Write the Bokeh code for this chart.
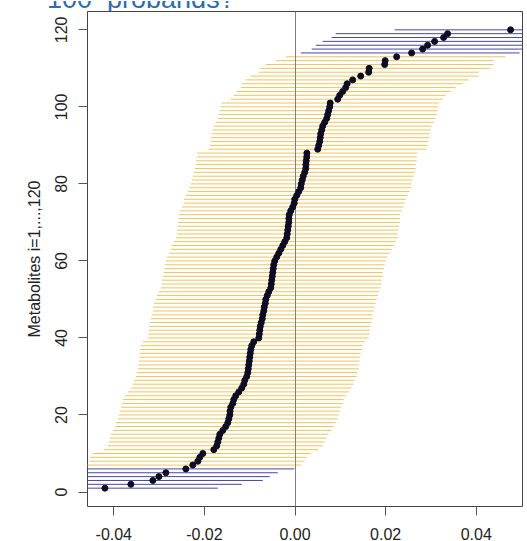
from bokeh.plotting import figure
from bokeh.layouts import column
from bokeh.models import FixedTicker, Range1d, ColumnDataSource, Div
from bokeh.embed import file_html
from bokeh.resources import INLINE

# ---- data ----
estimate = [
    -0.04196, -0.03623, -0.03138, -0.03005, -0.02851, -0.02410, -0.02256, -0.02145, -0.02101, -0.02035,
    -0.01793, -0.01727, -0.01704, -0.01682, -0.01660, -0.01594, -0.01529, -0.01484, -0.01462, -0.01440,
    -0.01435, -0.01418, -0.01374, -0.01352, -0.01308, -0.01241, -0.01175, -0.01131, -0.01109, -0.01065,
    -0.01043, -0.01032, -0.01021, -0.01010, -0.00999, -0.00988, -0.00977, -0.00955, -0.00911, -0.00800,
    -0.00789, -0.00778, -0.00767, -0.00745, -0.00723, -0.00712, -0.00690, -0.00679, -0.00657, -0.00646,
    -0.00613, -0.00580, -0.00536, -0.00525, -0.00514, -0.00503, -0.00492, -0.00481, -0.00470, -0.00448,
    -0.00404, -0.00359, -0.00315, -0.00271, -0.00227, -0.00183, -0.00172, -0.00161, -0.00150, -0.00139,
    -0.00136, -0.00128, -0.00095, -0.00051, -0.00018, -0.00007, 0.00037, 0.00082, 0.00126, 0.00137,
    0.00159, 0.00181, 0.00214, 0.00236, 0.00239, 0.00247, 0.00258, 0.00261, 0.00501, 0.00523,
    0.00545, 0.00556, 0.00567, 0.00589, 0.00611, 0.00655, 0.00699, 0.00721, 0.00743, 0.00765,
    0.00776, 0.00942, 0.00986, 0.01052, 0.01118, 0.01151, 0.01272, 0.01449, 0.01625, 0.01636,
    0.01978, 0.01989, 0.02243, 0.02573, 0.02816, 0.02926, 0.03080, 0.03279, 0.03367, 0.04756,
]

lower = [
    -0.0662, -0.0605, -0.0556, -0.0543, -0.0528, -0.0481, -0.04615, -0.04549, -0.04527, -0.04461,
    -0.04218, -0.04130, -0.04108, -0.04086, -0.04064, -0.04020, -0.03976, -0.03954, -0.03909, -0.03887,
    -0.03865, -0.03843, -0.03821, -0.03799, -0.03755, -0.03689, -0.03623, -0.03579, -0.03557, -0.03513,
    -0.03491, -0.03468, -0.03465, -0.03446, -0.03443, -0.03424, -0.03421, -0.03402, -0.03358, -0.03248,
    -0.03245, -0.03226, -0.03223, -0.03204, -0.03182, -0.03160, -0.03138, -0.03135, -0.03116, -0.03072,
    -0.03050, -0.03005, -0.02961, -0.02939, -0.02936, -0.02917, -0.02895, -0.02892, -0.02873, -0.02851,
    -0.02829, -0.02785, -0.02741, -0.02719, -0.02675, -0.02631, -0.02609, -0.02606, -0.02586, -0.02583,
    -0.02564, -0.02561, -0.02542, -0.02498, -0.02454, -0.02451, -0.02410, -0.02366, -0.02322, -0.02300,
    -0.02278, -0.02256, -0.02234, -0.02212, -0.02190, -0.02187, -0.02168, -0.02165, -0.01903, -0.01881,
    -0.01859, -0.01856, -0.01837, -0.01815, -0.01793, -0.01749, -0.01704, -0.01682, -0.01660, -0.01638,
    -0.01616, -0.01418, -0.01352, -0.01286, -0.01197, -0.01175, -0.01087, -0.00977, -0.00800, -0.00778,
    -0.00646, -0.00426, -0.00205, 0.00126, 0.00368, 0.00456, 0.00611, 0.00809, 0.00897, 0.02198,
]

upper = [
    -0.01704, -0.01175, -0.00712, -0.00558, -0.00381, -0.00018, 0.00126, 0.00192, 0.00258, 0.00346,
    0.00523, 0.00611, 0.00655, 0.00699, 0.00743, 0.00809, 0.00853, 0.00897, 0.00942, 0.00964,
    0.00986, 0.01008, 0.01052, 0.01074, 0.01118, 0.01184, 0.01250, 0.01294, 0.01316, 0.01360,
    0.01383, 0.01405, 0.01410, 0.01427, 0.01430, 0.01449, 0.01471, 0.01493, 0.01537, 0.01625,
    0.01647, 0.01650, 0.01669, 0.01691, 0.01713, 0.01716, 0.01735, 0.01757, 0.01779, 0.01801,
    0.01824, 0.01846, 0.01890, 0.01912, 0.01915, 0.01934, 0.01937, 0.01956, 0.01978, 0.02000,
    0.02044, 0.02088, 0.02132, 0.02176, 0.02220, 0.02265, 0.02268, 0.02287, 0.02290, 0.02309,
    0.02311, 0.02314, 0.02353, 0.02397, 0.02419, 0.02441, 0.02485, 0.02529, 0.02573, 0.02576,
    0.02595, 0.02617, 0.02639, 0.02661, 0.02664, 0.02684, 0.02686, 0.02706, 0.02904, 0.02926,
    0.02948, 0.02970, 0.02973, 0.02992, 0.03014, 0.03058, 0.03102, 0.03124, 0.03147, 0.03150,
    0.03169, 0.03257, 0.03323, 0.03433, 0.03543, 0.03698, 0.03830, 0.04051, 0.04055, 0.04315,
    0.04381, 0.04385, 0.04646, 0.04955, 0.0522, 0.0533, 0.0548, 0.0568, 0.0577, 0.0718,
]

metabolite = list(range(1, 121))

x_ticks = [-0.04, -0.02, 0.0, 0.02, 0.04]
x_tick_labels = ["-0.04", "-0.02", "0.00", "0.02", "0.04"]
y_ticks = [0, 20, 40, 60, 80, 100, 120]
y_label = "Metabolites i=1,...,120"
title_text = "100&nbsp;&nbsp;probands?"

# ---- styling ----
ORANGE = "#F0C35A"
BLUE = "#4646A8"
POINT = "#0C0C22"
FONT = "Liberation Sans"
TXT = "#222222"

colors = [BLUE if (lo > 0 or up < 0) else ORANGE for lo, up in zip(lower, upper)]
src = ColumnDataSource(dict(y=metabolite, est=estimate, lo=lower, up=upper, c=colors))

# ---- title strip: the reference shows only the lower part of a cropped title ----
title_html = (
    '<div style="height:11px;width:527px;overflow:hidden;position:relative;">'
    '<div style="position:absolute;left:47px;top:-15px;white-space:nowrap;'
    "font-family:'Liberation Sans',Arial,sans-serif;font-size:27px;line-height:27px;"
    'color:#2F6DB0;">' + title_text + '</div></div>'
)
t = Div(text=title_html, width=527, height=11, margin=(0, 0, 0, 0))

# ---- main plot ----
p = figure(
    width=527, height=530,
    frame_width=435, frame_height=495,
    min_border_left=87, min_border_right=5, min_border_top=0, min_border_bottom=35,
    x_range=Range1d(-0.0458, 0.0502), y_range=Range1d(-3.76, 124.76),
    output_backend="svg", toolbar_location=None,
)
p.background_fill_color = "white"
p.border_fill_color = "white"
p.grid.visible = False
p.outline_line_color = "#444444"
p.outline_line_width = 1

p.segment(x0="lo", y0="y", x1="up", y1="y", line_color="c", line_width=1, source=src)
p.vspan(x=[0.0], line_color="#7f7f7f", line_width=1)
p.scatter(x="est", y="y", size=6, fill_color=POINT, line_color=POINT, source=src)

p.xaxis.ticker = FixedTicker(ticks=x_ticks)
p.xaxis.major_label_overrides = {t_: l for t_, l in zip(x_ticks, x_tick_labels)}
p.yaxis.ticker = FixedTicker(ticks=y_ticks)
p.yaxis.major_label_orientation = "vertical"
p.yaxis.axis_label = y_label

for ax in (p.xaxis[0], p.yaxis[0]):
    ax.axis_line_color = None
    ax.major_tick_line_color = "#555555"
    ax.major_tick_out = 9
    ax.major_tick_in = 0
    ax.minor_tick_line_color = None
    ax.major_label_text_font = FONT
    ax.major_label_text_font_size = "16px"
    ax.major_label_text_color = TXT
    ax.axis_label_text_font = FONT
    ax.axis_label_text_font_size = "16px"
    ax.axis_label_text_font_style = "normal"
    ax.axis_label_text_color = TXT

p.xaxis.major_label_standoff = 12
p.yaxis.major_label_standoff = 11
p.yaxis.axis_label_standoff = 10

layout = column(t, p, spacing=0)
open("out.html", "w").write(file_html(layout, INLINE))
